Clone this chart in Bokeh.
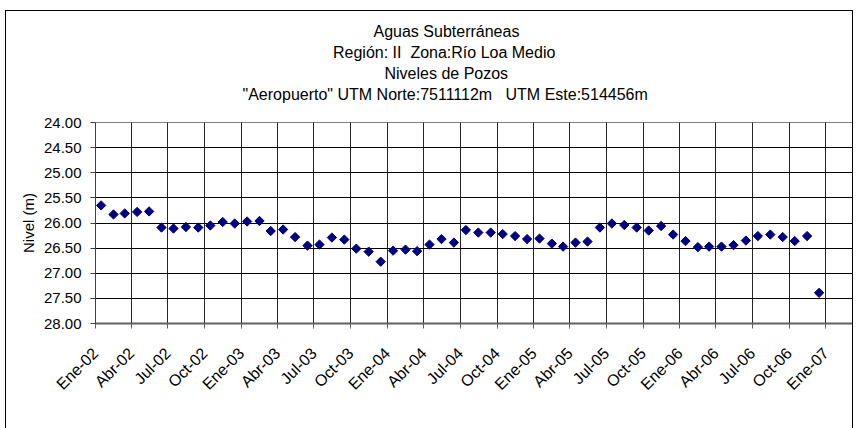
import math
from datetime import datetime
from bokeh.plotting import figure
from bokeh.models import (Range1d, FixedTicker, NumeralTickFormatter, Title,
                          ColumnDataSource)
from bokeh.embed import file_html
from bokeh.resources import INLINE

# ---- data ----
years = [2002, 2003, 2004, 2005, 2006]
nivel = [
    25.65, 25.83, 25.81, 25.78, 25.77, 26.09, 26.11, 26.08, 26.09, 26.05, 25.98, 26.01,
    25.97, 25.96, 26.16, 26.13, 26.28, 26.45, 26.43, 26.29, 26.33, 26.51, 26.57, 26.77,
    26.55, 26.53, 26.56, 26.43, 26.32, 26.39, 26.14, 26.19, 26.19, 26.22, 26.26, 26.32,
    26.31, 26.41, 26.47, 26.39, 26.37, 26.09, 26.01, 26.04, 26.09, 26.15, 26.06, 26.23,
    26.36, 26.48, 26.47, 26.47, 26.44, 26.35, 26.26, 26.23, 26.28, 26.36, 26.26, 27.39,
]
fechas = [datetime(y, m, 15) for y in years for m in range(1, 13)]

tick_dates = [datetime(y, m, 1) for y in years for m in (1, 4, 7, 10)] + [datetime(2007, 1, 1)]
tick_labels = ["Ene-02", "Abr-02", "Jul-02", "Oct-02", "Ene-03", "Abr-03", "Jul-03", "Oct-03",
               "Ene-04", "Abr-04", "Jul-04", "Oct-04", "Ene-05", "Abr-05", "Jul-05", "Oct-05",
               "Ene-06", "Abr-06", "Jul-06", "Oct-06", "Ene-07"]
y_ticks = [24.0, 24.5, 25.0, 25.5, 26.0, 26.5, 27.0, 27.5, 28.0]
NB = "\u00a0"
titulo = ["Aguas Subterráneas",
          "Región: II" + NB + NB + "Zona:Río Loa Medio",
          "Niveles de Pozos",
          "\"Aeropuerto\" UTM Norte:7511112m" + NB * 3 + "UTM Este:514456m"]
# approximate rendered widths (px) of the title lines, used to centre them
titulo_w = [146, 227, 124, 408]

FONT = "Liberation Sans"


def ms(d):
    return (d - datetime(1970, 1, 1)).total_seconds() * 1000.0


tick_ms = [ms(d) for d in tick_dates]

p = figure(width=848, height=418, output_backend="svg", toolbar_location=None,
           x_axis_type="datetime",
           x_range=Range1d(ms(datetime(2002, 1, 1)), ms(datetime(2007, 3, 11))),
           y_range=Range1d(28.0, 24.0),
           min_border_left=89, min_border_right=1, min_border_top=111, min_border_bottom=106)
p.styles = {"margin-left": "5px", "margin-top": "10px",
            "border-left": "1px solid black", "border-top": "1px solid black",
            "border-right": "1px solid black", "box-sizing": "border-box"}
p.background_fill_color = "white"
p.border_fill_color = "white"
p.outline_line_color = "#808080"
p.outline_line_width = 1

src = ColumnDataSource(dict(x=fechas, y=nivel))
p.scatter("x", "y", source=src, marker="square", angle=math.pi / 4, size=6.6,
          fill_color="#000080", line_color="#000080")

# axes
xa = p.xaxis[0]
xa.ticker = FixedTicker(ticks=tick_ms)
xa.major_label_overrides = {t: l for t, l in zip(tick_ms, tick_labels)}
xa.major_label_orientation = math.pi / 4
xa.major_label_text_font = FONT
xa.major_label_text_font_size = "16px"
xa.major_label_text_color = "black"
xa.major_label_standoff = 22
xa.axis_line_color = "#606060"
xa.axis_line_width = 2
xa.major_tick_line_color = "#606060"
xa.major_tick_out = 5
xa.major_tick_in = 0
xa.minor_tick_line_color = None

ya = p.yaxis[0]
ya.ticker = FixedTicker(ticks=y_ticks)
ya.formatter = NumeralTickFormatter(format="0.00")
ya.major_label_text_font = FONT
ya.major_label_text_font_size = "15px"
ya.major_label_text_color = "black"
ya.major_label_standoff = 9
ya.axis_line_color = "#404040"
ya.major_tick_line_color = "#404040"
ya.major_tick_out = 5
ya.major_tick_in = 0
ya.minor_tick_line_color = None
ya.axis_label = "Nivel (m)"
ya.axis_label_text_font = FONT
ya.axis_label_text_font_size = "15px"
ya.axis_label_text_font_style = "normal"
ya.axis_label_text_color = "black"
ya.axis_label_standoff = 4

p.xgrid.ticker = FixedTicker(ticks=tick_ms)
p.xgrid.grid_line_color = "black"
p.xgrid.grid_line_alpha = 0.85
p.ygrid.ticker = FixedTicker(ticks=y_ticks)
p.ygrid.grid_line_color = "black"

# spacer between plot area and title block
p.add_layout(Title(text=NB, text_font=FONT, text_font_size="16px", standoff=0), "above")
# title lines (closest to the plot first)
centre = 446 - 95
for i in range(len(titulo) - 1, -1, -1):
    t = Title(text=titulo[i], align="left", offset=centre - titulo_w[i] / 2,
              text_font=FONT, text_font_size="16px", text_font_style="normal",
              text_color="black", standoff=2)
    p.add_layout(t, "above")

open("out.html", "w").write(file_html(p, INLINE))
